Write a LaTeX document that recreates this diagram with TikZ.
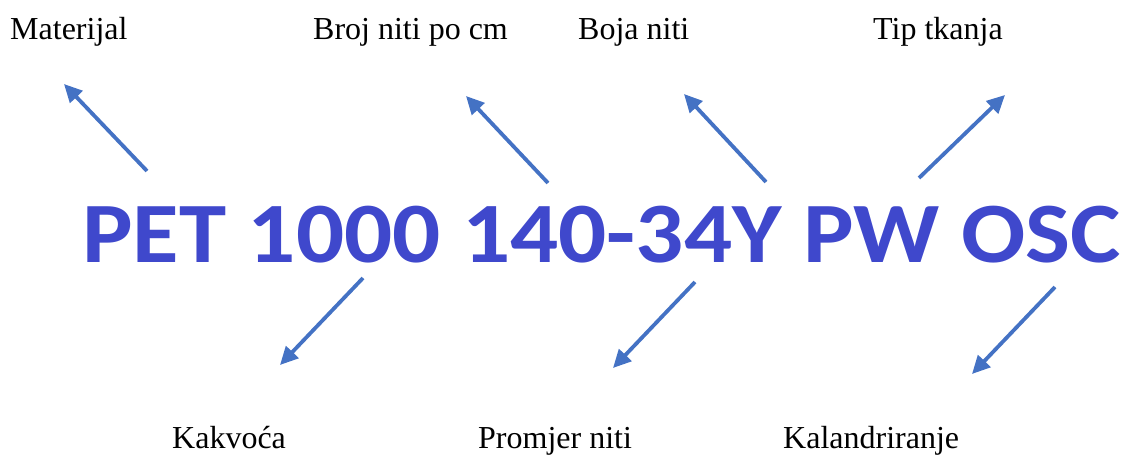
\documentclass[tikz,border=0pt]{standalone}
\usepackage{fontspec}
\setmainfont{Liberation Serif}
\newfontfamily\codefont{Carlito}
\usetikzlibrary{arrows.meta}
\definecolor{codeblue}{HTML}{3F48CC}
\definecolor{arrowblue}{HTML}{4472C4}
\tikzset{
  lbl/.style={font=\fontsize{32}{36}\selectfont, inner sep=0pt, anchor=base west},
  pointer/.style={draw=arrowblue, line width=3.8pt, -{Triangle[length=18pt,width=17pt]}}
}
\begin{document}
\begin{tikzpicture}[x=1pt,y=-1pt]
\useasboundingbox (0,0) rectangle (1125,457);
% code
\node[inner sep=0pt, anchor=base west, text=codeblue, font=\codefont\bfseries\fontsize{86}{92}\selectfont] (code) at (82,263) {\scalebox{1.106}[1]{PET 1000 140-34Y PW OSC}};
% labels
\node[lbl] (mat) at (10,40) {Materijal};
\node[lbl] (broj) at (313,40) {Broj niti po cm};
\node[lbl] (boja) at (578,40) {Boja niti};
\node[lbl] (tip) at (873,40) {Tip tkanja};
\node[lbl] (kak) at (172,448) {Kakvoća};
\node[lbl] (prom) at (478,448) {Promjer niti};
\node[lbl] (kal) at (783,448) {Kalandriranje};
% arrow endpoints
\coordinate (t1) at (147,171); \coordinate (h1) at (64,84);
\coordinate (t2) at (548,183); \coordinate (h2) at (466,96);
\coordinate (t3) at (766,182); \coordinate (h3) at (684,94);
\coordinate (t4) at (919,178); \coordinate (h4) at (1005,95);
\coordinate (t5) at (363,278); \coordinate (h5) at (280,365);
\coordinate (t6) at (695,282); \coordinate (h6) at (613,368);
\coordinate (t7) at (1055,287); \coordinate (h7) at (972,374);
\foreach \i in {1,...,7} {\draw[pointer] (t\i) -- (h\i);}
\end{tikzpicture}
\end{document}
